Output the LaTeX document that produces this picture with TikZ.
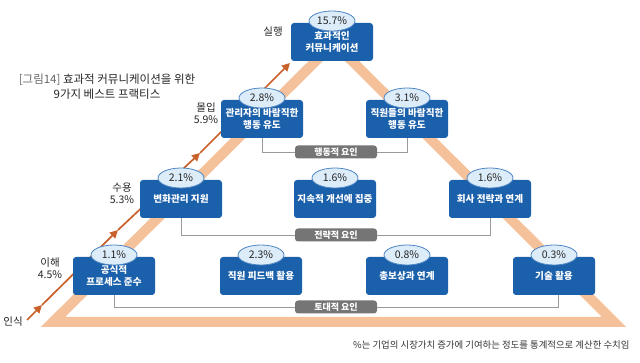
\documentclass[tikz,border=0pt]{standalone}
\usepackage{fontspec}
\setmainfont{Noto Sans CJK KR}
\usetikzlibrary{shapes.geometric,arrows.meta}
\definecolor{boxblue}{HTML}{1B60AA}
\definecolor{pctfill}{HTML}{DCECF9}
\definecolor{pctline}{HTML}{4F86C4}
\definecolor{bandpeach}{HTML}{F5C19A}
\definecolor{climbbrown}{HTML}{C8612B}
\definecolor{factorgray}{HTML}{757575}
\definecolor{linkgray}{HTML}{9A9A9A}
\begin{document}
\begin{tikzpicture}[x=1pt,y=-1pt,
  practice/.style={fill=boxblue, rounded corners=3pt, text=white, align=center,
    font=\bfseries\fontsize{9.6}{11.5}\selectfont, minimum width=82pt, minimum height=38pt, inner sep=1pt},
  pct/.style={ellipse, draw=pctline, fill=pctfill, line width=0.8pt, minimum width=46pt,
    minimum height=20pt, inner sep=0pt, font=\fontsize{10.5}{11}\selectfont, text=black!85},
  factor/.style={fill=factorgray, rounded corners=3pt, text=white,
    font=\bfseries\fontsize{9}{9}\selectfont, minimum width=82pt, minimum height=13pt, inner sep=0pt},
  link/.style={draw=linkgray, line width=0.8pt},
  stage/.style={align=center, font=\fontsize{10.5}{12}\selectfont, text=black!85},
  climb/.style={draw=climbbrown, line width=1.7pt, -{Triangle[length=8pt,width=8pt]}},
  band/.style={draw=bandpeach, line width=10pt, line join=miter}]
\useasboundingbox (0,0) rectangle (640,363);
% triangle behind the boxes
\coordinate (apex) at (334,43);
\coordinate (bl) at (53,322);
\coordinate (br) at (614,322);
\draw[band] (apex) -- (bl) -- (br) -- cycle;
%
\coordinate (s0) at (27,320);
\coordinate (s1) at (42,305);
\coordinate (s2) at (118,230);
\coordinate (s3) at (200,153);
\coordinate (s4) at (290,63);
\foreach \a/\b in {s0/s1,s1/s2,s2/s3,s3/s4}
  \draw[climb] (\a) -- (\b);
\node[stage] (know) at (13,322) {인식};
\node[stage] (under) at (50,268) {이해\\4.5\%};
\node[stage] (accept) at (122,193) {수용\\5.3\%};
\node[stage] (commit) at (206,113) {몰입\\5.9\%};
\node[stage] (act) at (273,32) {실행};
%
\node[align=center, font=\fontsize{11.5}{15}\selectfont, text=black!85] (title) at (107,87)
  {{\color{black!60}[그림14]} 효과적 커뮤니케이션을 위한\\9가지 베스트 프랙티스};
%
\node[practice] (comm) at (332,42) {효과적인\\커뮤니케이션};
\node[practice] (mgr) at (262,119) {관리자의 바람직한\\행동 유도};
\node[practice] (emp) at (407,119) {직원들의 바람직한\\행동 유도};
\node[practice] (chg) at (181,199) {변화관리 지원};
\node[practice] (imp) at (335,199) {지속적 개선에 집중};
\node[practice] (str) at (490,199) {회사 전략과 연계};
\node[practice] (proc) at (114,276) {공식적\\프로세스 준수};
\node[practice] (fb) at (261,276) {직원 피드백 활용};
\node[practice] (rew) at (407,276) {총보상과 연계};
\node[practice] (tech) at (554,276) {기술 활용};
%
\node[pct] (commp) at (332,21) {15.7\%};
\node[pct] (mgrp) at (262,98) {2.8\%};
\node[pct] (empp) at (407,98) {3.1\%};
\node[pct] (chgp) at (181,178) {2.1\%};
\node[pct] (impp) at (335,178) {1.6\%};
\node[pct] (strp) at (490,178) {1.6\%};
\node[pct] (procp) at (114,255) {1.1\%};
\node[pct] (fbp) at (261,255) {2.3\%};
\node[pct] (rewp) at (407,255) {0.8\%};
\node[pct] (techp) at (554,255) {0.3\%};
%
\node[factor] (beh) at (336,152) {행동적 요인};
\node[factor] (strat) at (336,235) {전략적 요인};
\node[factor] (base) at (336,307) {토대적 요인};
\draw[link] (mgr.south) |- (beh.west);
\draw[link] (emp.south) |- (beh.east);
\draw[link] (chg.south) |- (strat.west);
\draw[link] (str.south) |- (strat.east);
\draw[link] (proc.south) |- (base.west);
\draw[link] ([xshift=4pt]tech.south) |- (base.east);
%
\node[anchor=east, font=\fontsize{9.4}{10}\selectfont, text=black!80] (note) at (633,345)
  {\%는 기업의 시장가치 증가에 기여하는 정도를 통계적으로 계산한 수치임};
\end{tikzpicture}
\end{document}
